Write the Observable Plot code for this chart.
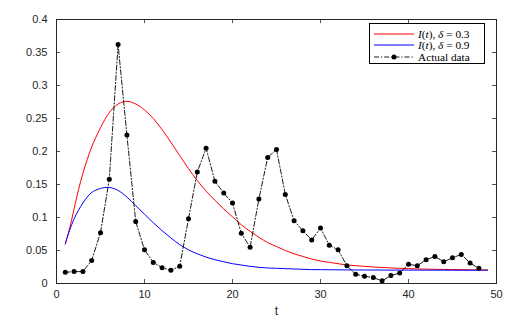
<!DOCTYPE html>
<html>
<head>
<meta charset="utf-8">
<script src="https://cdn.jsdelivr.net/npm/d3@7"></script>
<script src="https://cdn.jsdelivr.net/npm/@observablehq/plot@0.6"></script>
<style>
  html, body { margin: 0; padding: 0; background: #fff; }
  #wrap { position: relative; width: 532px; height: 319px; }
  #legend { position: absolute; left: 369px; top: 23px; width: 116px; height: 41px;
    border: 0.8px solid #000; background: #fff; box-sizing: border-box;
    font-family: "Liberation Serif", "DejaVu Serif", serif; font-size: 11.3px; }
  #legend .row { position: absolute; left: 0; height: 12px; display: flex; align-items: center; }
  #legend svg { display: block; flex: none; }
  #legend span { margin-left: 4px; white-space: nowrap; }
</style>
</head>
<body>
<div id="wrap"></div>
<script>
// ---- data ----
const dataT = d3.range(1, 49); // t = 1..48
const actualData = [0.017,0.018,0.018,0.035,0.077,0.158,0.362,0.225,0.094,0.051,0.032,0.024,0.020,0.026,0.098,0.169,0.205,0.155,0.137,0.122,0.076,0.055,0.128,0.191,0.203,0.135,0.095,0.080,0.066,0.084,0.058,0.051,0.027,0.014,0.011,0.009,0.004,0.012,0.016,0.029,0.027,0.036,0.041,0.033,0.039,0.044,0.031,0.023];

const curveT = [1,1.25,1.5,2,2.5,3,3.5,4,5,6,7,8,9,10,11,12,13,14,15,16,17,18,19,20,21,22,23,24,25,26,27,28,29,30,31,32,33,34,35,36,37,38,39,40,41,42,43,44,45,46,47,48,49];
const delta03 = [0.060,0.072,0.084,0.113,0.142,0.167,0.188,0.207,0.236,0.259,0.272,0.276,0.272,0.263,0.250,0.233,0.214,0.194,0.174,0.156,0.140,0.126,0.113,0.101,0.089,0.079,0.070,0.062,0.056,0.050,0.045,0.041,0.037,0.034,0.032,0.030,0.028,0.027,0.026,0.025,0.0243,0.0236,0.023,0.0225,0.0221,0.0218,0.0215,0.0213,0.0211,0.0209,0.0208,0.0207,0.0206];
const delta09 = [0.060,0.071,0.081,0.098,0.111,0.122,0.131,0.138,0.144,0.1455,0.141,0.131,0.118,0.105,0.092,0.080,0.069,0.059,0.051,0.045,0.040,0.036,0.033,0.030,0.028,0.026,0.0245,0.0235,0.023,0.0225,0.022,0.0215,0.021,0.021,0.0208,0.0207,0.0206,0.0205,0.0205,0.0204,0.0204,0.0203,0.0203,0.0203,0.0202,0.0202,0.0202,0.0202,0.0201,0.0201,0.0201,0.0201,0.0201];

const xTicks = [0,10,20,30,40,50];
const yTicks = [0,0.05,0.1,0.15,0.2,0.25,0.3,0.35,0.4];
const yTickLabels = ["0","0.05","0.1","0.15","0.2","0.25","0.3","0.35","0.4"];
const xLabel = "t";
const legendLabels = ["δ = 0.3", "δ = 0.9", "Actual data"];

// ---- tables ----
const actualRows = dataT.map((t, i) => ({t, v: actualData[i]}));
const r03 = curveT.map((t, i) => ({t, v: delta03[i]}));
const r09 = curveT.map((t, i) => ({t, v: delta09[i]}));

const marginTop = 19, marginBottom = 36, marginLeft = 56, marginRight = 36;
const frameH = 319 - marginTop - marginBottom;
const frameW = 532 - marginLeft - marginRight;
const tk = 4;
const axisColor = "#262626";

const chart = Plot.plot({
  width: 532,
  height: 319,
  marginTop, marginBottom, marginLeft, marginRight,
  style: {fontFamily: "'Liberation Sans', Arial, Helvetica, sans-serif", fontSize: "11px", background: "#fff", color: "#262626"},
  x: {domain: [0, 50]},
  y: {domain: [0, 0.4]},
  marks: [
    Plot.axisX({ticks: xTicks, tickSize: 0, tickPadding: 7, label: null, fontSize: 11, tickFormat: d => String(d)}),
    Plot.axisY({ticks: yTicks, tickSize: 0, tickPadding: 9, label: null, fontSize: 11, tickFormat: d => yTickLabels[yTicks.indexOf(d)]}),
    // inward ticks on all four sides
    Plot.tickX(xTicks, {x: d => d, insetTop: frameH - tk, stroke: axisColor, strokeWidth: 0.8}),
    Plot.tickX(xTicks, {x: d => d, insetBottom: frameH - tk, stroke: axisColor, strokeWidth: 0.8}),
    Plot.tickY(yTicks, {y: d => d, insetRight: frameW - tk, stroke: axisColor, strokeWidth: 0.8}),
    Plot.tickY(yTicks, {y: d => d, insetLeft: frameW - tk, stroke: axisColor, strokeWidth: 0.8}),
    Plot.line(r03, {x: "t", y: "v", stroke: "#ff0000", strokeWidth: 1, curve: "catmull-rom"}),
    Plot.line(r09, {x: "t", y: "v", stroke: "#0000ff", strokeWidth: 1, curve: "catmull-rom"}),
    Plot.line(actualRows, {x: "t", y: "v", stroke: "#000", strokeWidth: 0.9, strokeDasharray: "5,2,1.2,2"}),
    Plot.dot(actualRows, {x: "t", y: "v", r: 2.5, fill: "#000", stroke: "none"}),
    Plot.frame({stroke: axisColor, strokeWidth: 1}),
    Plot.text([xLabel], {text: d => d, frameAnchor: "bottom", dy: 31, fontSize: 12, fill: "#262626"})
  ]
});

const wrap = document.getElementById("wrap");
wrap.appendChild(chart);

// ---- legend ----
const legend = document.createElement("div");
legend.id = "legend";
const swatch = (kind) => {
  if (kind === 0) return `<svg width="44" height="12"><line x1="4" y1="6" x2="44" y2="6" stroke="#ff0000" stroke-width="1"/></svg>`;
  if (kind === 1) return `<svg width="44" height="12"><line x1="4" y1="6" x2="44" y2="6" stroke="#0000ff" stroke-width="1"/></svg>`;
  return `<svg width="44" height="12"><line x1="4" y1="6" x2="44" y2="6" stroke="#000" stroke-width="0.9" stroke-dasharray="5,2,1.2,2"/><circle cx="24" cy="6" r="2.5" fill="#000"/></svg>`;
};
const tops = [4, 15, 27];
legendLabels.forEach((lab, i) => {
  const row = document.createElement("div");
  row.className = "row";
  row.style.top = tops[i] + "px";
  const text = i < 2 ? `<i>I</i>(<i>t</i>), <i>${lab.split(" ")[0]}</i> ${lab.slice(2)}` : lab;
  row.innerHTML = swatch(i) + `<span>${text}</span>`;
  legend.appendChild(row);
});
wrap.appendChild(legend);
</script>
</body>
</html>
